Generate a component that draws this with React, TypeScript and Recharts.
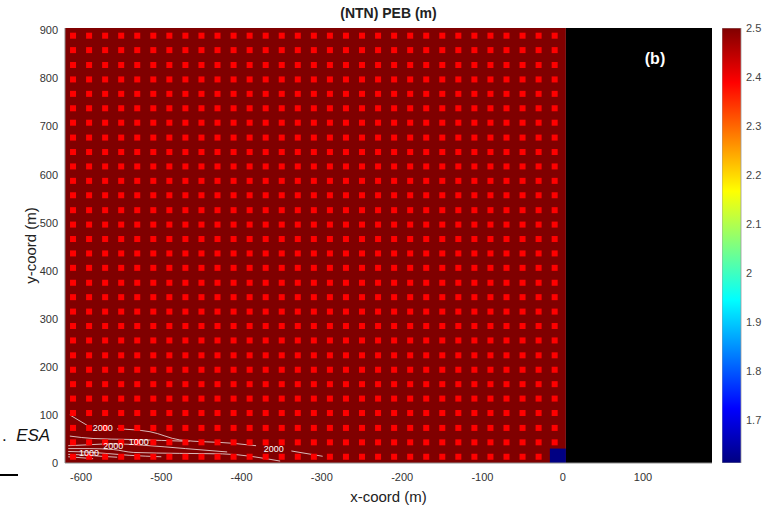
import React from 'react';
import {
  ComposedChart,
  BarChart,
  Bar,
  Scatter,
  Line,
  XAxis,
  YAxis,
  ReferenceArea,
  ReferenceDot,
} from 'recharts';

const FONT = '"Liberation Sans", Arial, Helvetica, sans-serif';

// axis ticks
const xTicks = [-600, -500, -400, -300, -200, -100, 0, 100];
const yTicks = [0, 100, 200, 300, 400, 500, 600, 700, 800, 900];
const colorTicks = [1.7, 1.8, 1.9, 2.0, 2.1, 2.2, 2.3, 2.4, 2.5];

// colour scale limits (jet)
const colorMin = 1.612;
const colorMax = 2.5;

// PEB field regions (x/y in metres)
const fieldX = [-620, 4];
const fieldY = [0, 905];
const fieldValue = 2.5;
const emptyX = [4, 186];
const cornerX = [-16, 4];
const cornerY = [0, 30];
const cornerValue = 1.615;

// brighter cells inside the field
const cellX = [
  -610, -590, -570, -550, -530, -510, -490, -470, -450, -430, -410, -390, -370, -350, -330, -310,
  -290, -270, -250, -230, -210, -190, -170, -150, -130, -110, -90, -70, -50, -30, -10,
];
const cellY = [
  13, 43, 73, 104, 134, 164, 194, 224, 255, 285, 315, 345, 375, 406, 436, 466, 496, 526, 557, 587,
  617, 647, 677, 708, 738, 768, 798, 828, 859, 889,
];
const cellValue = 2.39;

// contour lines (white)
const contourA1 = [
  { x: -614, y: 100 },
  { x: -590, y: 76 },
];
const contourA2 = [
  { x: -555, y: 71 },
  { x: -514, y: 65 },
  { x: -477, y: 48 },
  { x: -411, y: 41 },
  { x: -382, y: 36 },
];
const contourA3 = [
  { x: -338, y: 25 },
  { x: -299, y: 14 },
];
const contourB = [
  { x: -614, y: 56 },
  { x: -585, y: 51 },
  { x: -540, y: 49 },
  { x: -500, y: 47 },
  { x: -465, y: 45 },
];
const contourC1 = [
  { x: -616, y: 36 },
  { x: -590, y: 38 },
  { x: -560, y: 40 },
  { x: -523, y: 37 },
  { x: -470, y: 30 },
  { x: -418, y: 23 },
];
const contourC2 = [
  { x: -616, y: 30 },
  { x: -590, y: 30 },
  { x: -560, y: 28 },
  { x: -535, y: 22 },
  { x: -477, y: 20 },
  { x: -424, y: 19 },
  { x: -352, y: 4 },
];
const contourC3 = [
  { x: -616, y: 24 },
  { x: -595, y: 23 },
  { x: -570, y: 20 },
  { x: -540, y: 16 },
  { x: -500, y: 13 },
];
const contourC4 = [
  { x: -616, y: 18 },
  { x: -600, y: 17 },
  { x: -575, y: 14 },
  { x: -555, y: 12 },
];
const contourC5 = [
  { x: -616, y: 13 },
  { x: -600, y: 11 },
  { x: -585, y: 9 },
];
const contours = [
  contourA1, contourA2, contourA3, contourB, contourC1, contourC2, contourC3, contourC4, contourC5,
];

const contourLabels = [
  { x: -573, y: 74, text: '2000' },
  { x: -360, y: 30, text: '2000' },
  { x: -590, y: 22, text: '1000' },
  { x: -560, y: 36, text: '2000' },
  { x: -528, y: 44, text: '1000' },
];

const clamp = (v: number) => Math.max(0, Math.min(1, v));
const jet = (value: number) => {
  const t = clamp((value - colorMin) / (colorMax - colorMin));
  const r = clamp(1.5 - Math.abs(4 * t - 3));
  const g = clamp(1.5 - Math.abs(4 * t - 2));
  const b = clamp(1.5 - Math.abs(4 * t - 1));
  return `rgb(${Math.round(r * 255)},${Math.round(g * 255)},${Math.round(b * 255)})`;
};

const inCorner = (x: number, y: number) =>
  x > cornerX[0] && x < cornerX[1] && y > cornerY[0] && y < cornerY[1];
const cells = cellX.flatMap((x) => cellY.filter((y) => !inCorner(x, y)).map((y) => ({ x, y })));

const CellMark = (props: any) => (
  <rect x={props.cx - 3} y={props.cy - 3} width={6} height={6} fill={jet(cellValue)} />
);

const YLabel = (props: any) => {
  const vb = props.viewBox;
  const cy = vb.y + vb.height / 2;
  return (
    <text
      x={30}
      y={cy}
      transform={`rotate(-90, 30, ${cy})`}
      textAnchor="middle"
      dominantBaseline="central"
      fontSize={15}
      fill="#222"
      fontFamily={FONT}
    >
      y-coord (m)
    </text>
  );
};

const gradientStops = [0, 0.125, 0.375, 0.625, 0.875, 1];
const colorbarData = [{ name: 'PEB', range: [colorMin, colorMax] }];

export default function App() {
  return (
    <div style={{ position: 'absolute', left: 0, top: 0, width: 767, height: 505, background: '#fff', fontFamily: FONT }}>
      <div
        style={{ position: 'absolute', left: 65, width: 647, top: 5, textAlign: 'center', fontWeight: 'bold', fontSize: 14, color: '#222' }}
      >
        (NTN) PEB (m)
      </div>

      <div style={{ position: 'absolute', left: 2, top: 426, fontSize: 17, color: '#111' }}>
        .&nbsp; <span style={{ fontStyle: 'italic' }}>ESA</span>
      </div>
      <div style={{ position: 'absolute', left: 0, top: 474, width: 18, height: 2, background: '#000' }} />

      <div style={{ position: 'absolute', left: 0, top: 0 }}>
        <ComposedChart width={767} height={505} margin={{ top: 28, right: 55, bottom: 0, left: 0 }}>
          <XAxis
            type="number"
            dataKey="x"
            domain={[-620, 186]}
            ticks={xTicks}
            allowDataOverflow
            height={42}
            tickLine={false}
            tickSize={8}
            axisLine={{ stroke: '#8c8c8c' }}
            tick={{ fontSize: 11, fill: '#333', fontFamily: FONT }}
            label={{ value: 'x-coord (m)', position: 'insideBottom', offset: 3, fontSize: 15, fill: '#222', fontFamily: FONT }}
          />
          <YAxis
            type="number"
            dataKey="y"
            domain={[0, 905]}
            ticks={yTicks}
            allowDataOverflow
            width={65}
            tickLine={false}
            tickSize={5}
            axisLine={{ stroke: '#8c8c8c' }}
            tick={{ fontSize: 11, fill: '#333', fontFamily: FONT }}
            label={<YLabel />}
          />
          <ReferenceArea
            x1={fieldX[0]}
            x2={fieldX[1]}
            y1={fieldY[0]}
            y2={fieldY[1]}
            fill={jet(fieldValue)}
            fillOpacity={1}
            stroke="none"
          />
          <ReferenceArea x1={emptyX[0]} x2={emptyX[1]} y1={fieldY[0]} y2={fieldY[1]} fill="#000" fillOpacity={1} stroke="none" />
          <ReferenceArea
            x1={cornerX[0]}
            x2={cornerX[1]}
            y1={cornerY[0]}
            y2={cornerY[1]}
            fill={jet(cornerValue)}
            fillOpacity={1}
            stroke="none"
          />
          <Scatter data={cells} shape={CellMark} isAnimationActive={false} />
          {contours.map((c, i) => (
            <Line
              key={i}
              data={c}
              dataKey="y"
              type="monotoneX"
              stroke="#fff"
              strokeWidth={0.8}
              strokeOpacity={0.9}
              dot={false}
              activeDot={false}
              isAnimationActive={false}
            />
          ))}
          {contourLabels.map((l, i) => (
            <ReferenceDot
              key={i}
              x={l.x}
              y={l.y}
              r={0}
              fill="none"
              stroke="none"
              label={{ value: l.text, position: 'center', fontSize: 9, fill: '#fff', fontFamily: FONT }}
            />
          ))}
          <ReferenceDot
            x={115}
            y={842}
            r={0}
            fill="none"
            stroke="none"
            label={{ value: '(b)', position: 'center', fontSize: 16, fontWeight: 'bold', fill: '#fff', fontFamily: FONT }}
          />
        </ComposedChart>
      </div>

      <div style={{ position: 'absolute', left: 722, top: 0 }}>
        <BarChart width={45} height={505} data={colorbarData} margin={{ top: 28, right: 0, bottom: 42, left: 0 }} barCategoryGap={0}>
          <defs>
            <linearGradient id="jetGrad" x1="0" y1="1" x2="0" y2="0">
              {gradientStops.map((t) => (
                <stop key={t} offset={t} stopColor={jet(colorMin + t * (colorMax - colorMin))} />
              ))}
            </linearGradient>
          </defs>
          <XAxis dataKey="name" hide />
          <YAxis
            orientation="right"
            type="number"
            domain={[colorMin, colorMax]}
            ticks={colorTicks}
            allowDataOverflow
            width={26}
            axisLine={false}
            tickLine={false}
            tickSize={3}
            tickFormatter={(v: number) => String(Math.round(v * 10) / 10)}
            tick={{ fontSize: 11, fill: '#444', fontFamily: FONT }}
          />
          <Bar dataKey="range" fill="url(#jetGrad)" stroke="#999" strokeWidth={0.8} isAnimationActive={false} />
        </BarChart>
      </div>
    </div>
  );
}
